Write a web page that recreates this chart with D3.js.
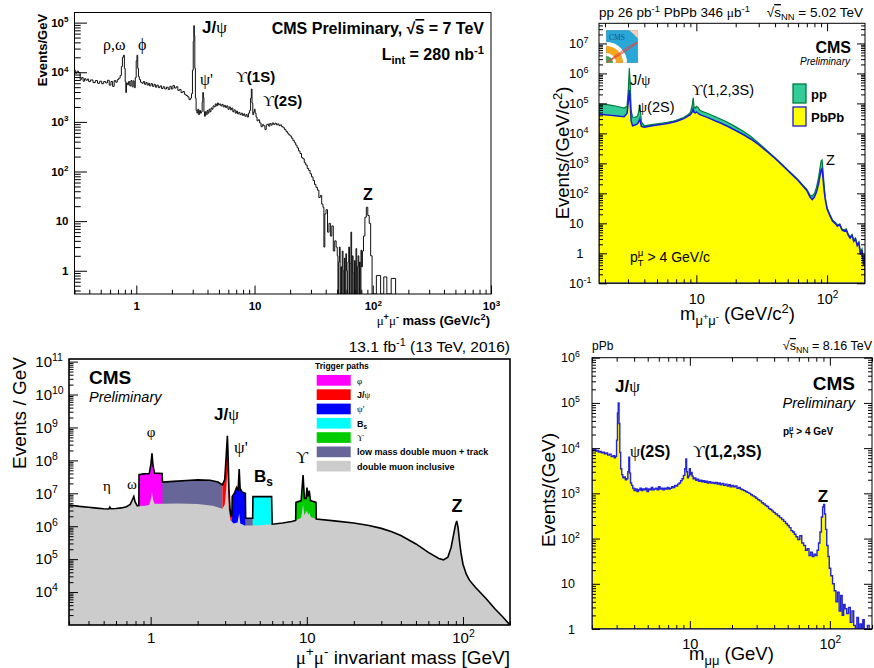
<!DOCTYPE html>
<html>
<head>
<meta charset="utf-8">
<script src="https://cdn.jsdelivr.net/npm/d3@7"></script>
<style>
  body { margin: 0; background: #fff; }
  svg { display: block; }
</style>
</head>
<body>
<svg id="c" width="874" height="668"></svg>
<script>
// ---------------------------------------------------------------
// Dimuon invariant-mass spectra, four CMS datasets
// ---------------------------------------------------------------

// (1) pp at 7 TeV, 280 nb^-1 : [mass GeV, events/GeV]
const p1Spectrum = [
  [0.30,11000],[0.31,9600],[0.32,10500],[0.33,9800],[0.34,7200],[0.35,7800],[0.36,6600],[0.37,7400],
  [0.38,6900],[0.39,7300],[0.40,6500],[0.42,7000],[0.44,6200],[0.46,6800],[0.48,6000],[0.50,6600],
  [0.52,5900],[0.54,6500],[0.56,6100],[0.58,6900],[0.60,5500],[0.62,6500],[0.64,5200],[0.66,6800],
  [0.68,6300],[0.70,7100],[0.72,7600],[0.74,8600],[0.755,13000],[0.77,20000],[0.785,22000],[0.80,12000],
  [0.81,6500],[0.82,3900],[0.83,6100],[0.85,5600],[0.87,6500],[0.89,5300],[0.91,6800],[0.93,5100],
  [0.95,6700],[0.97,4900],[0.99,7800],[1.005,17000],[1.02,22000],[1.035,12000],[1.05,8200],[1.07,7100],
  [1.10,6300],[1.13,6000],[1.16,6500],[1.19,5700],[1.22,6200],[1.25,5500],[1.28,6000],[1.31,5300],
  [1.35,5900],[1.39,5200],[1.43,5700],[1.47,5000],[1.51,5500],[1.56,4900],[1.61,5300],[1.66,4700],
  [1.71,5100],[1.77,4600],[1.83,5000],[1.89,4500],[1.95,5200],[2.01,4600],[2.07,5400],[2.14,4800],
  [2.21,5100],[2.28,4300],[2.35,4500],[2.43,3900],[2.51,4100],[2.59,3600],[2.67,3400],[2.75,3200],
  [2.83,2800],[2.90,3000],[2.96,3700],[3.01,11000],[3.05,42000],[3.08,87000],[3.11,55000],[3.14,12000],
  [3.18,3000],[3.23,1700],[3.28,1500],[3.34,1800],[3.40,1400],[3.46,1700],[3.52,1500],[3.58,1600],
  [3.63,2500],[3.67,3900],[3.71,3100],[3.75,1600],[3.80,1300],[3.87,1600],[3.94,1400],[4.01,1700],
  [4.08,1500],[4.16,1800],[4.24,1600],[4.32,1900],[4.41,1800],[4.50,2100],[4.60,2000],[4.70,2300],
  [4.80,2100],[4.90,2400],[5.00,2200],[5.12,2300],[5.24,2100],[5.36,2250],[5.49,2000],[5.62,2150],
  [5.75,1950],[5.89,2100],[6.03,1800],[6.17,2000],[6.32,1750],[6.47,1900],[6.62,1600],[6.78,1750],
  [6.94,1500],[7.10,1650],[7.27,1450],[7.44,1550],[7.62,1400],[7.80,1500],[7.99,1350],[8.18,1450],
  [8.37,1300],[8.57,1400],[8.77,1250],[8.98,1500],[9.19,1700],[9.33,3000],[9.46,4600],[9.58,2400],
  [9.75,1400],[9.92,1600],[10.03,1800],[10.2,1500],[10.4,1250],[10.6,1050],[10.9,1100],[11.2,950],
  [11.5,800],[11.8,880],[12.1,830],[12.4,700],[12.7,870],[13.0,900],[13.3,820],[13.6,930],
  [13.9,860],[14.3,950],[14.7,890],[15.1,940],[15.5,870],[15.9,910],[16.3,840],[16.7,870],
  [17.2,800],[17.7,760],[18.2,700],[18.7,640],[19.2,590],[19.7,550],[20.2,520],[20.8,470],
  [21.4,420],[22.0,380],[22.6,340],[23.2,300],[23.9,260],[24.6,230],[25.3,190],[26.0,180],
  [26.7,150],[27.5,135],[28.3,115],[29.1,105],[29.9,90],[30.8,78],[31.7,66],[32.6,55],
  [33.5,48],[34.5,42],[35.5,30],[36.5,33],[37.5,22],[38.3,19],[38.9,3],[39.7,14],[40.8,17],
  [42.0,6],[43.2,9],[44.4,5],[45.7,8],[47.0,2.5],[48.3,4],[49.7,3],[50.4,2],[51.1,0],[51.8,1.5],
  [52.6,3],[53.3,0],[54.1,1.2],[54.8,0],[55.6,2.5],[56.4,1],[57.2,0],[58.0,1.8],[58.8,0],[59.6,2.2],
  [60.5,1],[61.3,0],[62.2,1.5],[63.1,3],[64.0,0],[64.9,1.4],[65.8,6],[66.7,0],[67.7,2],[68.6,0.9],
  [69.6,0],[70.6,1.6],[71.6,0],[72.6,2.8],[73.6,0],[74.6,1.2],[75.7,2.0],[76.7,0],[77.8,1.5],[78.9,0],
  [80.0,2.6],[81.1,1.2],[82.3,2.5],[84.6,5],[87.0,12],[89.5,19],[92.0,13],[94.6,9],[97.3,2],
  [100,0],[115,0.8],[118,0],[130,0.75],[133,0],[154,0.7],[158,0]
];
const p1XTicks = [1, 10, 100, 1000];
const p1XLabels = ["1", "10", "10^{2}", "10^{3}"];
const p1YTicks = [1, 10, 100, 1e3, 1e4, 1e5];
const p1YLabels = ["1", "10", "10^{2}", "10^{3}", "10^{4}", "10^{5}"];

// (2) pp 26 pb^-1 vs PbPb 346 ub^-1 at 5.02 TeV : events/(GeV/c^2)
const p2Mass = [1.8,2.0,2.2,2.4,2.6,2.8,2.95,3.02,3.07,3.12,3.17,3.25,3.4,3.55,3.64,3.69,3.74,3.8,
  4.0,4.5,5,5.5,6,6.5,7,7.5,8,8.5,9.0,9.3,9.46,9.6,9.8,10.0,10.3,10.6,11,12,13,14,15,17,20,23,26,30,
  35,40,45,50,55,60,65,70,74,77,80,83,86,88,90,91.5,93,95,97,100,105,110,115,120,125,130,135,140,145,
  150,155,160,165,170,175,180,185,190,195];
const p2PP = [9.5e4,9.3e4,8.8e4,8.2e4,7.6e4,7.0e4,8.0e4,3.0e5,1.5e6,4.5e5,6.0e4,3.5e4,3.4e4,3.8e4,6.0e4,9.2e4,5.0e4,2.4e4,
  1.8e4,1.95e4,2.1e4,2.2e4,2.35e4,2.5e4,2.75e4,3.05e4,3.4e4,4.0e4,5.0e4,8.5e4,1.55e5,7.5e4,7.0e4,8.0e4,7.3e4,6.0e4,
  5.5e4,4.8e4,4.1e4,3.6e4,3.15e4,2.45e4,1.65e4,1.15e4,8.0e3,4.7e3,
  2600,1550,950,610,410,285,190,135,88,82,100,160,330,650,1200,1300,600,180,70,
  33,20,13,11,9,9.5,6.5,6,6.5,4.5,3.5,4.2,2.8,3.2,2,2.4,1.1,1.4,0.5,0.9];
const p2PbPb = [4.4e4,4.2e4,4.0e4,3.9e4,3.7e4,3.6e4,4.6e4,1.2e5,2.8e5,1.0e5,2.6e4,1.8e4,1.9e4,2.1e4,2.6e4,3.0e4,2.3e4,1.7e4,
  1.6e4,1.75e4,1.9e4,2.0e4,2.15e4,2.3e4,2.5e4,2.8e4,3.1e4,3.6e4,4.2e4,5.2e4,6.5e4,5.0e4,4.8e4,5.2e4,4.7e4,4.3e4,
  4.0e4,3.5e4,3.0e4,2.6e4,2.3e4,1.8e4,1.25e4,9.0e3,6.5e3,4.2e3,
  2400,1450,900,580,390,270,180,125,75,62,75,110,200,360,600,660,330,120,60,
  30,18,12,10,8,9,6,5.5,6,4,3.2,4,2.5,3,1.8,2.2,0.9,1.3,0.4,0.8];
const p2XTicks = [10, 100];
const p2XLabels = ["10", "10^{2}"];
const p2YTicks = [0.1, 1, 10, 100, 1e3, 1e4, 1e5, 1e6, 1e7];
const p2YLabels = ["10^{-1}", "1", "10", "10^{2}", "10^{3}", "10^{4}", "10^{5}", "10^{6}", "10^{7}"];
const p2Legend = ["pp", "PbPb"];

// (3) 13 TeV 2016 trigger paths, 13.1 fb^-1 : events/GeV
const p3Envelope = [
  [0.3,4.4e6],[0.35,4.0e6],[0.4,3.75e6],[0.45,3.55e6],[0.5,3.4e6],[0.54,3.35e6],[0.548,3.8e6],[0.556,3.4e6],
  [0.6,3.45e6],[0.65,3.6e6],[0.7,3.9e6],[0.74,4.6e6],[0.765,6.5e6],[0.78,8.0e6],[0.795,5.5e6],[0.82,4.2e6],
  [0.84,4.2e6],[0.842,3.7e7],[0.9,3.9e7],[0.98,4.0e7],[1.005,8e7],[1.02,1.65e8],[1.035,7e7],[1.06,4.1e7],
  [1.185,4.0e7],[1.19,2.2e7],[1.4,2.3e7],[1.7,2.45e7],[2.0,2.55e7],[2.4,2.5e7],[2.7,2.2e7],[2.88,1.8e7],
  [2.98,2.6e7],[3.05,1.5e8],[3.1,5.6e8],[3.13,1.6e8],[3.17,1.5e7],[3.22,3.5e6],[3.28,2.0e6],[3.31,2.0e6],
  [3.33,8e6],[3.45,1.05e7],[3.55,1.5e7],[3.63,1.2e7],[3.69,5.5e7],[3.74,1.4e7],[3.85,1.1e7],[4.04,1.0e7],
  [4.06,1.75e6],[4.5,1.75e6],[4.52,7.9e6],[5.95,7.9e6],[6.0,1.15e6],[7.0,1.25e6],[8.0,1.4e6],[8.48,1.5e6],
  [8.52,5.3e6],[9.2,6e6],[9.46,3.6e7],[9.65,7e6],[9.9,7e6],[10.02,1.5e7],[10.15,8e6],[10.36,1.2e7],
  [10.55,6e6],[11.45,5.3e6],[11.5,1.65e6],[15,1.45e6],[20,1.25e6],[25,1.05e6],[30,8.6e5],[35,6.8e5],
  [40,5.2e5],[50,2.9e5],[60,1.6e5],[70,1.05e5],[75,9.5e4],[80,1.15e5],[84,2.3e5],[87,5.5e5],
  [89.5,1.1e6],[91.2,1.45e6],[93,9e5],[95,3.5e5],[97,1.6e5],[100,7e4],[105,3.5e4],[110,2.3e4],
  [120,1.4e4],[140,6.5e3],[160,3.1e3],[180,1.75e3],[200,1.0e3]
];
const p3Inclusive = [
  [0.3,4.4e6],[0.35,4.0e6],[0.4,3.75e6],[0.45,3.55e6],[0.5,3.4e6],[0.54,3.35e6],[0.548,3.8e6],[0.556,3.4e6],
  [0.6,3.45e6],[0.65,3.6e6],[0.7,3.9e6],[0.74,4.6e6],[0.765,6.5e6],[0.78,8.0e6],[0.795,5.5e6],[0.82,4.2e6],
  [0.84,4.2e6],[0.9,4.1e6],[0.98,4.4e6],[1.005,7e6],[1.02,1.1e7],[1.035,6.5e6],[1.06,4.8e6],[1.2,4.8e6],
  [1.5,4.9e6],[2.0,4.7e6],[2.5,4.2e6],[2.88,3.4e6],[2.98,4.5e6],[3.05,1.5e7],[3.1,5e7],[3.13,1.4e7],
  [3.17,3e6],[3.25,1.5e6],[3.4,1.2e6],[3.6,1.3e6],[3.69,2.5e6],[3.75,1.2e6],[4.0,1.05e6],[4.5,1.05e6],
  [5.0,1.08e6],[6.0,1.15e6],[7.0,1.25e6],[8.0,1.4e6],[8.48,1.5e6],[9.2,1.8e6],[9.46,4.5e6],[9.65,2.2e6],
  [10.02,3.0e6],[10.2,2.2e6],[10.36,2.6e6],[10.6,1.9e6],[11.5,1.65e6],[15,1.45e6],[20,1.25e6],[25,1.05e6],
  [30,8.6e5],[35,6.8e5],[40,5.2e5],[50,2.9e5],[60,1.6e5],[70,1.05e5],[75,9.5e4],[80,1.15e5],
  [84,2.3e5],[87,5.5e5],[89.5,1.1e6],[91.2,1.45e6],[93,9e5],[95,3.5e5],[97,1.6e5],[100,7e4],
  [105,3.5e4],[110,2.3e4],[120,1.4e4],[140,6.5e3],[160,3.1e3],[180,1.75e3],[200,1.0e3]
];
// trigger paths (legend order) and their dimuon mass windows in GeV
const p3TriggerNames = ["~{φ}", "J/~{ψ}", "~{ψ'}", "B_{s}", "~{ϒ}", "low mass double muon + track", "double muon inclusive"];
const p3TriggerWindows = [
  [[0.84, 1.19]],
  [[2.88, 3.31]],
  [[3.31, 4.06]],
  [[4.5, 6.0]],
  [[8.48, 11.5]],
  [[1.0, 2.88], [4.06, 4.52]],
  []
];
const p3XTicks = [1, 10, 100];
const p3XLabels = ["1", "10", "10^{2}"];
const p3YTicks = [1e4, 1e5, 1e6, 1e7, 1e8, 1e9, 1e10, 1e11];
const p3YLabels = ["10^{4}", "10^{5}", "10^{6}", "10^{7}", "10^{8}", "10^{9}", "10^{10}", "10^{11}"];

// (4) pPb at 8.16 TeV : events/GeV
const p4Spectrum = [
  [2.0,9500],[2.05,8800],[2.1,9200],[2.15,8600],[2.2,8900],[2.25,8200],[2.3,8500],[2.36,7900],[2.42,8100],
  [2.48,7500],[2.55,7800],[2.62,7000],[2.7,7300],[2.78,6500],[2.86,6800],[2.92,6100],[2.97,6600],[3.02,15000],
  [3.06,60000],[3.1,100000],[3.14,35000],[3.18,8000],[3.23,3500],[3.29,2600],[3.35,2200],[3.42,2300],[3.5,2000],
  [3.57,2100],[3.64,3000],[3.69,6300],[3.74,2800],[3.8,1700],[3.87,1500],[3.95,1300],[4.05,1150],[4.15,1250],
  [4.25,1100],[4.35,1200],[4.45,1300],[4.55,1150],[4.66,1250],[4.77,1200],[4.88,1300],[5.0,1100],[5.12,1250],
  [5.24,1200],[5.37,1350],[5.5,1200],[5.63,1250],[5.77,1300],[5.91,1200],[6.05,1400],[6.2,1250],[6.35,1300],
  [6.5,1200],[6.66,1300],[6.82,1250],[6.99,1350],[7.16,1250],[7.33,1300],[7.51,1400],[7.7,1350],[7.89,1500],
  [8.08,1450],[8.28,1600],[8.48,1700],[8.69,1900],[8.9,2100],[9.1,2500],[9.3,3500],[9.42,5800],[9.54,3000],
  [9.7,2200],[9.85,2400],[10.0,3500],[10.15,2600],[10.3,2900],[10.45,2400],[10.65,2100],[10.9,2200],[11.15,1950],
  [11.4,2050],[11.7,1850],[12.0,1950],[12.3,1800],[12.6,1900],[12.9,1750],[13.2,1850],[13.5,1700],[13.9,1800],
  [14.3,1700],[14.7,1750],[15.1,1650],[15.5,1750],[15.9,1600],[16.3,1700],[16.7,1550],[17.2,1650],[17.7,1500],
  [18.2,1600],[18.7,1450],[19.2,1550],[19.7,1400],[20.2,1500],[20.8,1400],[21.4,1450],[22,1300],[22.6,1350],
  [23.2,1250],[23.9,1200],[24.6,1150],[25.3,1100],[26,1050],[26.8,1000],[27.6,930],[28.4,880],[29.2,840],
  [30,780],[31,720],[32,680],[33,620],[34,580],[35,540],[36,510],[37,460],[38,440],[39,410],[40,380],
  [41.5,350],[43,320],[44.5,290],[46,265],[47.5,240],[49,215],[50.5,195],[52,175],[53.5,150],[55,140],
  [56.5,125],[58,110],[60,95],[62,115],[64,80],[66,70],[68,55],[70,60],[72,42],[74,50],[76,40],[78,45],
  [80,42],[82,55],[84,80],[86,140],[88,300],[89.5,500],[91,570],[92.5,350],[94,160],[96,70],[98,40],
  [100,22],[103,15],[106,10],[109,7],[112,4],[115,6.5],[118,2.5],[121,5.5],[124,2],[127,3.5],[130,2.8],
  [134,2.2],[138,3],[142,1.4],[146,2.5],[150,1.2],[154,0],[158,1.8],[162,0],[166,1.3],[170,0],[174,1.6],
  [178,0],[183,0.9],[188,1.2],[194,0],[200,0]
];
const p4XTicks = [10, 100];
const p4XLabels = ["10", "10^{2}"];
const p4YTicks = [1, 10, 100, 1e3, 1e4, 1e5, 1e6];
const p4YLabels = ["1", "10", "10^{2}", "10^{3}", "10^{4}", "10^{5}", "10^{6}"];

// ---------------------------------------------------------------
const SANS = "'Liberation Sans', Arial, Helvetica, sans-serif";
const SERIF = "'Liberation Serif', 'DejaVu Serif', 'Times New Roman', serif";
const TRIGGER_COLORS = ["#ff00ff", "#ff0000", "#0000ff", "#00ffff", "#00cc00", "#666699", "#cccccc"];

const svg = d3.select("#c");
let clipN = 0;

// Mini markup: ^{sup} _{sub} ~{serif} !{overline} *{sup inside sub} %{sub under previous sup}
function rich(sel, str, base) {
  sel.text(null);
  const re = /([\^_~!*%])\{([^}]*)\}|([^\^_~!*%]+)/g;
  let cur = 0, m;
  while ((m = re.exec(str)) !== null) {
    const kind = m[1] || "", txt = m[1] ? m[2] : m[3];
    let off = 0, sc = 1, dx = 0;
    if (kind === "^") { off = -0.4; sc = 0.7; }
    if (kind === "_") { off = 0.25; sc = 0.7; }
    if (kind === "*") { off = 0.02; sc = 0.5; }
    if (kind === "%") { off = 0.3; sc = 0.7; dx = -0.42 * base; }
    const ts = sel.append("tspan").text(txt);
    const dy = (off - cur) * base;
    if (dy) ts.attr("dy", dy);
    if (dx) ts.attr("dx", dx);
    cur = off;
    if (sc !== 1) ts.attr("font-size", base * sc);
    if (kind === "~") ts.attr("font-family", SERIF).attr("font-weight", "normal");
    if (kind === "!") ts.style("text-decoration", "overline");
  }
}

function label(g, x, y, str, o = {}) {
  const size = o.size || 12;
  const t = g.append("text").attr("x", x).attr("y", y)
    .attr("font-family", o.family || SANS).attr("font-size", size)
    .attr("font-weight", o.weight || "normal").attr("font-style", o.style || "normal")
    .attr("text-anchor", o.anchor || "start").attr("fill", o.fill || "#000");
  if (o.rotate) t.attr("transform", `rotate(${o.rotate},${x},${y})`);
  rich(t, str, size);
  return t;
}

function makePanel(c) {
  const x = d3.scaleLog().domain(c.xDomain).range([c.x0, c.x1]);
  const y = d3.scaleLog().domain(c.yDomain).range([c.y1, c.y0]).clamp(true);
  const g = svg.append("g");
  const id = "frame" + (++clipN);
  svg.append("clipPath").attr("id", id).append("rect")
    .attr("x", c.x0).attr("y", c.y0).attr("width", c.x1 - c.x0).attr("height", c.y1 - c.y0);
  const plot = g.append("g").attr("clip-path", `url(#${id})`);
  return Object.assign({}, c, { x, y, g, plot, yv: v => y(Math.max(v, c.yDomain[0])) });
}

function logMinors([a, b]) {
  const out = [];
  for (let e = Math.floor(Math.log10(a)); e <= Math.ceil(Math.log10(b)); e++)
    for (let k = 2; k < 10; k++) {
      const v = k * Math.pow(10, e);
      if (v >= a * 0.9999 && v <= b * 1.0001) out.push(v);
    }
  return out;
}

function axes(P, o) {
  const mk = (gen, tr, vals, len, fmt, pad) => {
    const a = P.g.append("g").attr("transform", tr)
      .call(gen.tickValues(vals).tickSizeInner(-len).tickSizeOuter(0).tickPadding(pad || 0).tickFormat(fmt || ""));
    a.select(".domain").remove();
    a.selectAll("line").attr("stroke", "#000").attr("stroke-width", o.tw || 1);
    return a;
  };
  const B = `translate(0,${P.y1})`, L = `translate(${P.x0},0)`;
  const T = `translate(0,${P.y0})`, R = `translate(${P.x1},0)`;
  const mx = logMinors(P.x.domain()), my = logMinors(P.y.domain());
  mk(d3.axisBottom(P.x), B, mx, o.xLen / 2);
  mk(d3.axisLeft(P.y), L, my, o.yLen / 2);
  const xa = mk(d3.axisBottom(P.x), B, o.xTicks, o.xLen, (d, i) => o.xLabels[i], o.xPad);
  const ya = mk(d3.axisLeft(P.y), L, o.yTicks, o.yLen, (d, i) => o.yLabels[i], o.yPad);
  if (o.mirror) {
    mk(d3.axisTop(P.x), T, mx, o.xLen / 2);
    mk(d3.axisTop(P.x), T, o.xTicks, o.xLen);
    mk(d3.axisRight(P.y), R, my, o.yLen / 2);
    mk(d3.axisRight(P.y), R, o.yTicks, o.yLen);
  }
  [[xa, o.xLabels, o.xFont], [ya, o.yLabels, o.yFont]].forEach(([a, labels, fs]) => {
    a.selectAll(".tick text")
      .attr("font-family", SANS).attr("font-size", fs)
      .attr("font-weight", o.weight || "normal").attr("fill", "#000")
      .each(function (d, i) { rich(d3.select(this), labels[i], fs); });
  });
  // exponents hang past the right-aligned mantissa
  if (o.yBase) {
    ya.selectAll(".tick text").each(function () {
      const ts = this.querySelectorAll("tspan");
      let w = 0;
      for (let j = 1; j < ts.length; j++) w += ts[j].getComputedTextLength();
      d3.select(this).attr("x", -o.yPad + w);
    });
  }
  P.g.append("rect").attr("x", P.x0).attr("y", P.y0)
    .attr("width", P.x1 - P.x0).attr("height", P.y1 - P.y0)
    .attr("fill", "none").attr("stroke", "#000").attr("stroke-width", o.fw || 1);
}

// ---------------- panel 1 : 7 TeV ----------------
{
  const P = makePanel({ x0: 74.5, x1: 491, y0: 12.5, y1: 294, xDomain: [0.3, 1000], yDomain: [0.34, 1.6e5] });
  P.plot.append("path").datum(p1Spectrum)
    .attr("d", d3.line().x(d => P.x(d[0])).y(d => P.yv(d[1])).curve(d3.curveStep))
    .attr("fill", "none").attr("stroke", "#111").attr("stroke-width", 1);
  axes(P, { xTicks: p1XTicks, xLabels: p1XLabels, yTicks: p1YTicks, yLabels: p1YLabels,
    xLen: 8.5, yLen: 12.5, xPad: 8, yPad: 6, xFont: 11.5, yFont: 11.5, weight: "bold", fw: 1 });
  const B = { size: 13, weight: "bold" };
  label(P.g, 47, 50, "Events/GeV", Object.assign({ rotate: -90, anchor: "middle" }, B));
  label(P.g, 490, 325, "~{μ}^{+}~{μ}^{-} mass (GeV/c^{2})", Object.assign({ anchor: "end" }, B));
  label(P.g, 484, 34, "CMS Preliminary, √!{s} = 7 TeV", { size: 16, weight: "bold", anchor: "end" });
  label(P.g, 484, 60, "L_{int} = 280 nb^{-1}", { size: 16, weight: "bold", anchor: "end" });
  label(P.g, 202, 33, "J/~{ψ}", { size: 17, weight: "bold" });
  label(P.g, 103, 50, "ρ,ω", { size: 16, family: SERIF });
  label(P.g, 138, 50, "ϕ", { size: 16, family: SERIF });
  label(P.g, 200, 85, "ψ'", { size: 16, family: SERIF });
  label(P.g, 236, 82, "~{ϒ}(1S)", { size: 15, weight: "bold" });
  label(P.g, 263, 106, "~{ϒ}(2S)", { size: 15, weight: "bold" });
  label(P.g, 368, 200, "Z", { size: 16, weight: "bold", anchor: "middle" });
}

// ---------------- panel 2 : pp / PbPb 5.02 TeV ----------------
{
  const P = makePanel({ x0: 599, x1: 865, y0: 23.3, y1: 283.3, xDomain: [1.8, 195], yDomain: [0.1, 4.7e7] });
  const series = vals => p2Mass.map((m, i) => [m, vals[i]]);
  const area = d3.area().x(d => P.x(d[0])).y0(P.y1).y1(d => P.yv(d[1]));
  P.plot.append("path").datum(series(p2PP)).attr("d", area)
    .attr("fill", "#33cc99").attr("stroke", "#007a3d").attr("stroke-width", 1.2);
  P.plot.append("path").datum(series(p2PbPb)).attr("d", area)
    .attr("fill", "#ffff00").attr("stroke", "#1a1adb").attr("stroke-width", 1.5);

  // experiment logo
  const lg = P.g.append("g");
  const lid = "logo" + (++clipN);
  svg.append("clipPath").attr("id", lid).append("rect").attr("x", 606).attr("y", 30).attr("width", 32).attr("height", 33);
  lg.attr("clip-path", `url(#${lid})`);
  lg.append("rect").attr("x", 606).attr("y", 30).attr("width", 32).attr("height", 33).attr("fill", "#f6cfba");
  const arc = d3.arc().startAngle(0).endAngle(Math.PI / 2);
  const ring = (r0, r1, col) => lg.append("path").attr("transform", "translate(606,63)")
    .attr("d", arc({ innerRadius: r0, outerRadius: r1 })).attr("fill", col);
  ring(21, 40, "#29a8d8");
  ring(17, 21, "#ffffff");
  ring(10, 17, "#f4a81d");
  ring(7, 10, "#ffffff");
  ring(0, 7, "#3aa657");
  [[0, 26, 14], [0, 30, 20], [0, 33, 26]].forEach(([a, b, c]) =>
    lg.append("path").attr("d", `M606,${63 - a}Q${606 + b},${63 - c} 640,${35 + c / 3}`)
      .attr("fill", "none").attr("stroke", "#e0453a").attr("stroke-width", 0.8));
  lg.append("text").attr("x", 609).attr("y", 39.5).attr("font-family", SERIF).attr("font-size", 7.5)
    .attr("fill", "#1d4f8c").text("CMS");
  lg.append("rect").attr("x", 606).attr("y", 30).attr("width", 32).attr("height", 33)
    .attr("fill", "none").attr("stroke", "#999").attr("stroke-width", 0.5);

  axes(P, { xTicks: p2XTicks, xLabels: p2XLabels, yTicks: p2YTicks, yLabels: p2YLabels,
    xLen: 8, yLen: 8, xPad: 10, yPad: 15.5, xFont: 14.5, yFont: 13, yBase: true, mirror: true });
  label(P.g, 599, 17, "pp 26 pb^{-1} PbPb 346 ~{μ}b^{-1}", { size: 13.5 });
  label(P.g, 863, 17, "√!{s}_{NN} = 5.02 TeV", { size: 13.5, anchor: "end" });
  label(P.g, 851, 53, "CMS", { size: 16, weight: "bold", anchor: "end" });
  label(P.g, 850, 65, "Preliminary", { size: 10, style: "italic", anchor: "end" });
  label(P.g, 630, 85, "J/~{ψ}", { size: 14.5 });
  label(P.g, 638, 112, "~{ψ}(2S)", { size: 14.5 });
  label(P.g, 692, 95, "~{ϒ}(1,2,3S)", { size: 14.5 });
  label(P.g, 826, 165, "Z", { size: 14.5 });
  label(P.g, 630, 262, "p^{μ}%{T} > 4 GeV/c", { size: 14 });
  label(P.g, 569, 153, "Events/(GeV/c^{2})", { size: 18.5, rotate: -90, anchor: "middle" });
  label(P.g, 680, 320, "m_{μ}*{+}_{μ}*{-} (GeV/c^{2})", { size: 18.5 });
  // legend
  const boxes = [["#33cc99", "#007a3d", 84], ["#ffff00", "#1a1adb", 107]];
  boxes.forEach(([f, s, yy], i) => {
    P.g.append("rect").attr("x", 793).attr("y", yy).attr("width", 13).attr("height", 19)
      .attr("fill", f).attr("stroke", s).attr("stroke-width", 1.3);
    label(P.g, 811, yy + 15, p2Legend[i], { size: 13, weight: "bold" });
  });
}

// ---------------- panel 3 : 13 TeV trigger paths ----------------
{
  const P = makePanel({ x0: 69, x1: 510, y0: 359, y1: 625, xDomain: [0.3, 200], yDomain: [1e3, 1.2e11] });
  const area = d3.area().x(d => P.x(d[0])).y0(P.y1).y1(d => P.yv(d[1]));
  const order = [5, 0, 1, 2, 3, 4];
  order.forEach(k => {
    p3TriggerWindows[k].forEach(([lo, hi]) => {
      const id = "win" + (++clipN);
      svg.append("clipPath").attr("id", id).append("rect")
        .attr("x", P.x(lo)).attr("y", P.y0).attr("width", P.x(hi) - P.x(lo)).attr("height", P.y1 - P.y0);
      P.plot.append("path").datum(p3Envelope).attr("d", area)
        .attr("fill", TRIGGER_COLORS[k]).attr("clip-path", `url(#${id})`);
    });
  });
  P.plot.append("path").datum(p3Inclusive).attr("d", area).attr("fill", TRIGGER_COLORS[6]);
  P.plot.append("path").datum(p3Envelope)
    .attr("d", d3.line().x(d => P.x(d[0])).y(d => P.yv(d[1])))
    .attr("fill", "none").attr("stroke", "#000").attr("stroke-width", 1.6);
  axes(P, { xTicks: p3XTicks, xLabels: p3XLabels, yTicks: p3YTicks, yLabels: p3YLabels,
    xLen: 8, yLen: 9, xPad: 7, yPad: 17, xFont: 15, yFont: 15, yBase: true, fw: 1.6 });
  label(P.g, 510, 352, "13.1 fb^{-1} (13 TeV, 2016)", { size: 15.5, anchor: "end" });
  label(P.g, 89, 384, "CMS", { size: 19, weight: "bold" });
  label(P.g, 89, 402, "Preliminary", { size: 14.5, style: "italic" });
  label(P.g, 26, 413, "Events / GeV", { size: 19, rotate: -90, anchor: "middle" });
  label(P.g, 510, 664, "~{μ}^{+}~{μ}^{-} invariant mass [GeV]", { size: 19, anchor: "end" });
  label(P.g, 107, 491, "η", { size: 15, family: SERIF, anchor: "middle" });
  label(P.g, 132, 489, "ω", { size: 15, family: SERIF, anchor: "middle" });
  label(P.g, 151, 437, "φ", { size: 15, family: SERIF, anchor: "middle" });
  label(P.g, 214, 420, "J/~{ψ}", { size: 17, weight: "bold" });
  label(P.g, 234, 453, "~{ψ'}", { size: 17, weight: "bold" });
  label(P.g, 254, 482, "B_{s}", { size: 17, weight: "bold" });
  label(P.g, 302, 463, "ϒ", { size: 17, family: SERIF, anchor: "middle" });
  label(P.g, 457, 512, "Z", { size: 18, weight: "bold", anchor: "middle" });
  // legend
  label(P.g, 315, 369, "Trigger paths", { size: 8.5, weight: "bold" });
  p3TriggerNames.forEach((name, i) => {
    const yy = 375 + i * 14.3;
    P.g.append("rect").attr("x", 316.7).attr("y", yy).attr("width", 34).attr("height", 10.7)
      .attr("fill", TRIGGER_COLORS[i]);
    label(P.g, 357, yy + 8.8, name, { size: 9, weight: "bold" });
  });
}

// ---------------- panel 4 : pPb 8.16 TeV ----------------
{
  const P = makePanel({ x0: 592, x1: 872, y0: 357.7, y1: 629, xDomain: [2, 200], yDomain: [1, 1e6] });
  P.plot.append("path").datum(p4Spectrum)
    .attr("d", d3.area().x(d => P.x(d[0])).y0(P.y1).y1(d => P.yv(d[1])).curve(d3.curveStep))
    .attr("fill", "#ffff00").attr("stroke", "#2424d8").attr("stroke-width", 1.4);
  axes(P, { xTicks: p4XTicks, xLabels: p4XLabels, yTicks: p4YTicks, yLabels: p4YLabels,
    xLen: 8, yLen: 8, xPad: 10, yPad: 17, xFont: 14.5, yFont: 12.5, yBase: true, mirror: true });
  label(P.g, 592, 350, "pPb", { size: 12 });
  label(P.g, 872, 350, "√!{s}_{NN} = 8.16 TeV", { size: 12.5, anchor: "end" });
  label(P.g, 855, 390, "CMS", { size: 19, weight: "bold", anchor: "end" });
  label(P.g, 855, 408, "Preliminary", { size: 14.5, style: "italic", anchor: "end" });
  label(P.g, 783, 435, "p^{μ}%{T} > 4 GeV", { size: 10, weight: "bold" });
  label(P.g, 615, 392, "J/~{ψ}", { size: 17, weight: "bold" });
  label(P.g, 630, 457, "~{ψ}(2S)", { size: 16, weight: "bold" });
  label(P.g, 693, 457, "~{ϒ}(1,2,3S)", { size: 16, weight: "bold" });
  label(P.g, 823, 502, "Z", { size: 17, weight: "bold", anchor: "middle" });
  label(P.g, 555, 490, "Events/(GeV)", { size: 19, rotate: -90, anchor: "middle" });
  label(P.g, 689, 660, "m_{μμ} (GeV)", { size: 18.5 });
}
</script>
</body>
</html>
